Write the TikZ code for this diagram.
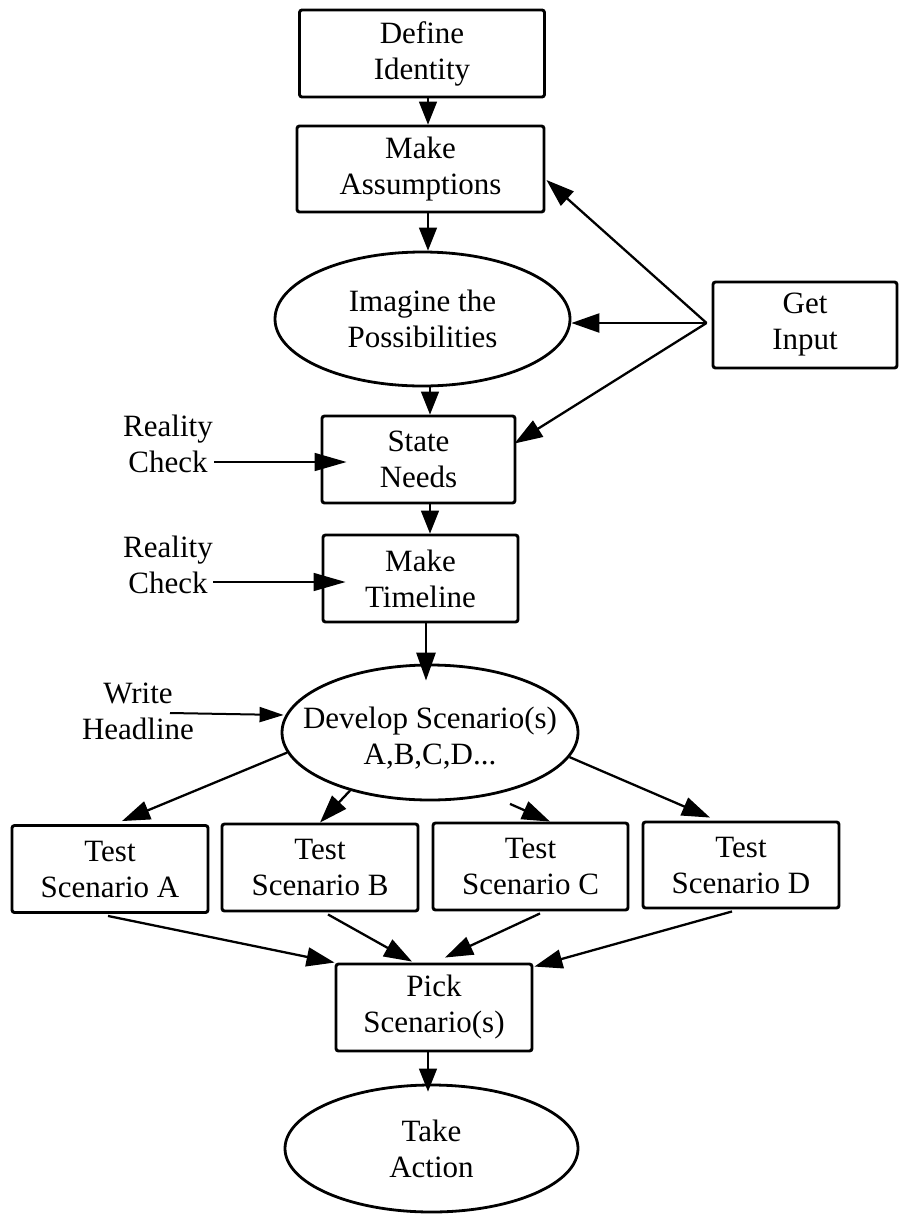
\documentclass[tikz,border=0pt]{standalone}
\usepackage{fontspec}
\setmainfont{Liberation Serif}
\usetikzlibrary{arrows.meta,calc,shapes.geometric}
\begin{document}
\begin{tikzpicture}[x=1pt,y=-1pt,
  txt/.style={font=\fontsize{31}{36}\selectfont,align=center,inner sep=0pt},
  box/.style={txt,draw,line width=2.9pt,rounded corners=2.5pt,minimum width=#1,minimum height=87pt},
  box/.default=196pt,
  oval/.style={draw,ellipse,line width=2.8pt,inner sep=0pt},
  arr/.style={-{Triangle[length=28pt,width=19pt]},line width=2.3pt},
  thinarr/.style={-{Triangle[length=23pt,width=18pt]},line width=1.4pt},
  rcarr/.style={-{Triangle[length=32pt,width=18pt]},line width=1.6pt}]
\useasboundingbox (0,0) rectangle (900,1219);
\fill[white] (0,0) rectangle (900,1219);
\coordinate (axis) at (428,0);
% nodes
\node[box=245pt] (def) at (422,53.5) {Define\\Identity};
\node[box=247pt,minimum height=86pt] (ma) at (420.5,169) {Make\\Assumptions};
\node[oval,minimum width=295pt,minimum height=134pt,label={[txt]center:Imagine the\\Possibilities}] (img) at (422.5,319) {};
\node[box=184pt,minimum height=86pt] (gi) at (805,325) {Get\\Input};
\node[box=193pt] (sn) at (418.5,459.5) {State\\Needs};
\node[box=195pt] (mt) at (420.5,578.5) {Make\\Timeline};
\node[oval,minimum width=296pt,minimum height=135pt,label={[txt,yshift=-6pt]center:Develop Scenario(s)\\A,B,C,D...}] (dev) at (430,732.5) {};
\node[box] (ta) at (110,869) {Test\\Scenario A};
\node[box] (tb) at (320,867.5) {Test\\Scenario B};
\node[box=195pt] (tc) at (530.5,866.5) {Test\\Scenario C};
\node[box,minimum height=86pt] (td) at (741,865) {Test\\Scenario D};
\node[box] (pick) at (434,1007.5) {Pick\\Scenario(s)};
\node[oval,minimum width=293pt,minimum height=127pt,label={[txt]center:Take\\Action}] (take) at (431.5,1148.5) {};
\node[txt] (rc1) at (168,443.5) {Reality\\Check};
\node[txt] (rc2) at (168,564.5) {Reality\\Check};
\node[txt] (wh) at (138,711.5) {Write\\Headline};
\coordinate (gj) at ($(gi.west)+(-5,-2)$);
% main spine
\draw[thinarr] (def.south -| axis) -- (ma.north -| axis);
\draw[thinarr] (ma.south -| axis) -- (img.north -| axis);
\draw[thinarr] ($(img.south -| axis)+(2,0)$) -- ($(sn.north -| axis)+(2,0)$);
\draw[thinarr] ($(sn.south -| axis)+(2,0)$) -- ($(mt.north -| axis)+(2,0)$);
\draw[arr,line width=2.8pt] ($(mt.south -| axis)+(-2,0)$) -- ($(dev.north -| axis)+(-2,17)$);
\draw[thinarr] (pick.south -| axis) -- ($(take.north -| axis)+(0,8)$);
% get input
\draw[arr] (gj) -- ($(ma.east)+(1,11)$);
\draw[arr] (gj) -- ($(img.east)+(0,4)$);
\draw[arr] (gj) -- ($(sn.east)+(-2,-16)$);
% side inputs
\draw[rcarr] ($(rc1.center)+(46,18.5)$) -- ($(sn.west)+(26,2.5)$);
\draw[rcarr] ($(rc2.center)+(45,17.5)$) -- ($(mt.west)+(24,3.5)$);
\draw[-{Triangle[length=24pt,width=15pt]},line width=2pt] ($(wh.center)+(32,1.5)$) -- ($(dev.west)+(3,-17.5)$);
% develop to tests
\draw[arr] (dev.188) -- ($(ta.north)+(12,-3)$);
\draw[arr] (dev.216) -- (tb.north);
\draw[arr] ($(dev.south)+(80,2.5)$) -- ($(tc.north)+(19.5,0)$);
\draw[arr] (dev.-10) -- ($(td.north)+(-31,-3)$);
% tests to pick
\draw[arr] ($(ta.south)+(-2,2)$) -- (pick.north west);
\draw[arr] ($(tb.south)+(8,2)$) -- ($(pick.north)+(-22,-1)$);
\draw[arr] ($(tc.south)+(9.5,2)$) -- ($(pick.north)+(11,-5)$);
\draw[arr] ($(td.south)+(-9,2)$) -- ($(pick.north east)+(1,4)$);
\end{tikzpicture}
\end{document}
